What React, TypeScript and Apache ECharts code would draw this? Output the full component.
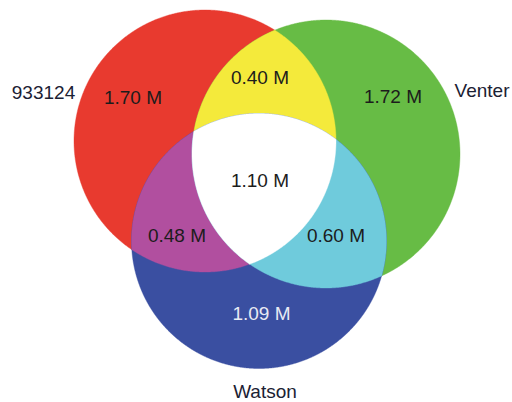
import React, { useEffect, useRef } from "react";
import * as echarts from "echarts";

// ---- data ----
const setNames = ["933124", "Venter", "Watson"];
// membership of each region (indices into setNames)
const regionSets: number[][] = [[0], [1], [2], [0, 1], [0, 2], [1, 2], [0, 1, 2]];
const regionValues = [1.7, 1.72, 1.09, 0.4, 0.48, 0.6, 1.1];
const valueUnit = "M";

// ---- layout / style ----
const CIRCLES = [
  { cx: 205, cy: 141, r: 131 },
  { cx: 326, cy: 154, r: 134 },
  { cx: 259, cy: 241, r: 127.5 },
];
const REGION_COLORS = ["#E83A2F", "#67BC45", "#3A4FA1", "#F4EA3B", "#B14F9F", "#6FCBDC", "#FFFFFF"];
const REGION_LABEL_POS = [
  [133, 97.5],
  [393, 96.5],
  [261.5, 313],
  [260, 77],
  [177, 235.5],
  [336, 235.5],
  [260, 180.5],
];
const DARK = "#1C1C1C";
const REGION_LABEL_COLORS = [DARK, DARK, "#E8EAF3", DARK, DARK, DARK, DARK];
const SET_LABEL_POS = [
  [43.5, 92],
  [482, 90],
  [265, 391],
];
const SET_LABEL_COLOR = "#1B2133";
const FONT = '19px "Liberation Sans", Arial, Helvetica, sans-serif';

type C = { cx: number; cy: number; r: number };

function inside(x: number, y: number, c: C, tol = 0.01) {
  return (x - c.cx) ** 2 + (y - c.cy) ** 2 <= (c.r + tol) ** 2;
}

function intersections(a: C, b: C): number[][] {
  const dx = b.cx - a.cx;
  const dy = b.cy - a.cy;
  const d = Math.hypot(dx, dy);
  if (d > a.r + b.r || d < Math.abs(a.r - b.r)) return [];
  const l = (a.r * a.r - b.r * b.r + d * d) / (2 * d);
  const h = Math.sqrt(Math.max(0, a.r * a.r - l * l));
  const mx = a.cx + (l * dx) / d;
  const my = a.cy + (l * dy) / d;
  return [
    [mx - (h * dy) / d, my + (h * dx) / d],
    [mx + (h * dy) / d, my - (h * dx) / d],
  ];
}

function regionPolygon(set: number[]): number[][] {
  const cs = set.map((i) => CIRCLES[i]);
  const pts: number[][] = [];
  const N = 1080;
  cs.forEach((c, k) => {
    for (let j = 0; j < N; j++) {
      const a = (2 * Math.PI * j) / N;
      const x = c.cx + c.r * Math.cos(a);
      const y = c.cy + c.r * Math.sin(a);
      if (cs.every((o, m) => m === k || inside(x, y, o))) pts.push([x, y]);
    }
  });
  for (let k = 0; k < cs.length; k++) {
    for (let m = k + 1; m < cs.length; m++) {
      intersections(cs[k], cs[m]).forEach((p) => {
        if (cs.every((o, n) => n === k || n === m || inside(p[0], p[1], o, 0.5))) pts.push(p);
      });
    }
  }
  const mx = pts.reduce((s, p) => s + p[0], 0) / pts.length;
  const my = pts.reduce((s, p) => s + p[1], 0) / pts.length;
  pts.sort((p, q) => Math.atan2(p[1] - my, p[0] - mx) - Math.atan2(q[1] - my, q[0] - mx));
  return pts;
}

export default function App() {
  const ref = useRef<HTMLDivElement>(null);
  useEffect(() => {
    if (!ref.current) return;
    const chart = echarts.init(ref.current, undefined, { renderer: "svg" });
    const labelItems = [
      ...regionValues.map((v, i) => ({
        text: `${v.toFixed(2)} ${valueUnit}`,
        pos: REGION_LABEL_POS[i],
        color: REGION_LABEL_COLORS[i],
      })),
      ...setNames.map((n, i) => ({ text: n, pos: SET_LABEL_POS[i], color: SET_LABEL_COLOR })),
    ];
    chart.setOption({
      animation: false,
      backgroundColor: "#ffffff",
      grid: { left: 0, right: 0, top: 0, bottom: 0 },
      xAxis: { type: "value", min: 0, max: 512, show: false },
      yAxis: { type: "value", min: 0, max: 402, inverse: true, show: false },
      series: [
        {
          type: "custom",
          name: "regions",
          data: regionValues.map((v, i) => [i, v]),
          renderItem: (params: any, api: any) => {
            const idx = params.dataIndex;
            const pts = regionPolygon(regionSets[idx]).map((p) => api.coord(p));
            return {
              type: "polygon",
              shape: { points: pts },
              style: { fill: REGION_COLORS[idx], stroke: REGION_COLORS[idx], lineWidth: 0.4 },
            };
          },
          silent: true,
        },
        {
          type: "custom",
          name: "labels",
          data: labelItems.map((_, i) => [i, 0]),
          renderItem: (params: any, api: any) => {
            const it = labelItems[params.dataIndex];
            const [x, y] = api.coord(it.pos);
            return {
              type: "text",
              x,
              y,
              style: {
                text: it.text,
                fill: it.color,
                font: FONT,
                align: "center",
                verticalAlign: "middle",
              },
            };
          },
          silent: true,
        },
      ],
    });
    return () => chart.dispose();
  }, []);
  return (
    <div
      ref={ref}
      style={{ position: "fixed", left: 0, top: 0, width: 512, height: 402, background: "#fff" }}
    />
  );
}
